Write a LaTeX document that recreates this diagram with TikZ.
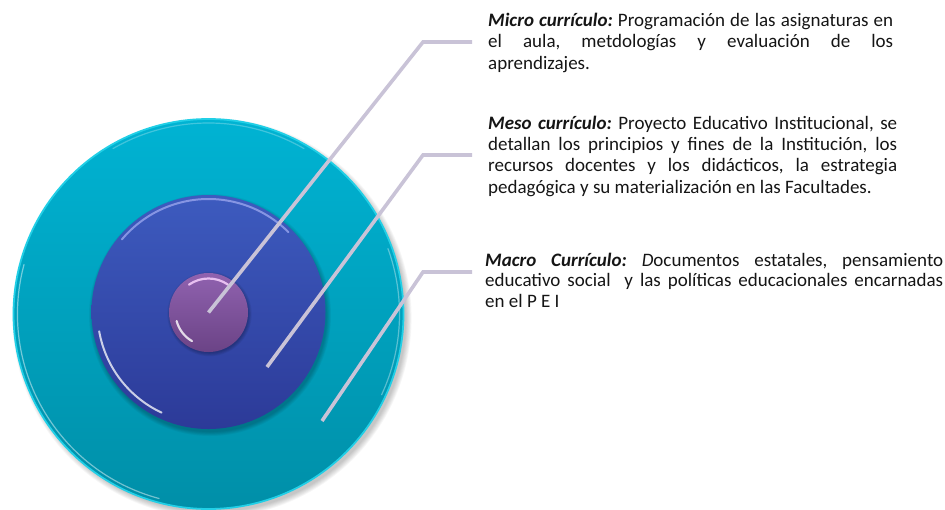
\documentclass[tikz,border=0pt]{standalone}
\usepackage{fontspec}
\setmainfont{Carlito}
\frenchspacing
\definecolor{cyTop}{HTML}{00B3D3}
\definecolor{cyBot}{HTML}{008FA8}
\definecolor{cyRim}{HTML}{22CFE6}
\definecolor{blTop}{HTML}{3D5BBF}
\definecolor{blBot}{HTML}{2C3A98}
\definecolor{blRim}{HTML}{8E9CE8}
\definecolor{puTop}{HTML}{9062AF}
\definecolor{puBot}{HTML}{6B4386}
\definecolor{puRim}{HTML}{F2CBF8}
\definecolor{leader}{HTML}{C9C3D7}
\definecolor{txt}{HTML}{151515}
\begin{document}
\begin{tikzpicture}[x=1pt,y=-1pt,
  disc/.style={circle, inner sep=0pt, minimum size=#1},
  leaderline/.style={draw=leader, line width=3.6pt},
  desc/.style={anchor=base west, inner sep=0pt, text=txt},
  glint/.style={line cap=round, line width=#1}]
\useasboundingbox (0,0) rectangle (945,509);
% soft shadow of the outer disc
\foreach \k in {0,...,7}
  \fill[black, opacity=0.03] (212,318) circle ({194pt+\k*0.8pt});
% outer disc
\node[disc=390pt, top color=cyTop, bottom color=cyBot, draw=cyRim, line width=1.8pt] (outer) at (208.5,314) {};
\draw[white, opacity=0.45, glint=1.2pt] (outer.center) ++(165:191pt) arc[start angle=165, end angle=255, radius=191pt];
\draw[white, opacity=0.35, glint=1.2pt] (outer.center) ++(-25:191pt) arc[start angle=-25, end angle=20, radius=191pt];
\draw[white, opacity=0.25, glint=1.2pt] (outer.center) ++(60:191pt) arc[start angle=60, end angle=120, radius=191pt];
% shadow of the middle disc
\foreach \k in {0,...,5}
  \fill[black, opacity=0.04] (210,315) circle ({117pt+\k*0.8pt});
% middle disc
\node[disc=234pt, top color=blTop, bottom color=blBot] (middle) at (208.5,312) {};
\draw[blRim, opacity=0.9, glint=2pt] (middle.center) ++(45:113pt) arc[start angle=45, end angle=140, radius=113pt];
\draw[white, opacity=0.75, glint=2pt] (middle.center) ++(190:111pt) arc[start angle=190, end angle=245, radius=111pt];
% shadow of the inner disc
\foreach \k in {0,...,4}
  \fill[black, opacity=0.05] (209.5,314) circle ({39pt+\k*0.8pt});
% inner disc
\node[disc=79pt, top color=puTop, bottom color=puBot] (inner) at (208.5,312.5) {};
\draw[puRim, opacity=0.9, glint=2.2pt] (inner.center) ++(55:34pt) arc[start angle=55, end angle=125, radius=34pt];
\draw[white, opacity=0.8, glint=2.2pt] (inner.center) ++(195:33pt) arc[start angle=195, end angle=240, radius=33pt];
% leader lines
\coordinate (mesoEnd) at (267,367);
\coordinate (macroEnd) at (322,421);
\coordinate (microBend) at (423,42);
\coordinate (microStub) at (472,42);
\coordinate (mesoBend) at (423,155);
\coordinate (mesoStub) at (472,155);
\coordinate (macroBend) at (423,272);
\coordinate (macroStub) at (472,272);
\draw[leaderline] (inner.center) -- (microBend) -- (microStub);
\draw[leaderline] (mesoEnd) -- (mesoBend) -- (mesoStub);
\draw[leaderline] (macroEnd) -- (macroBend) -- (macroStub);
% texts
\node[desc, font=\fontsize{19}{21.8}\selectfont\frenchspacing] (micro) at (488,26) {\parbox[t]{405pt}{%
\makebox[405pt][s]{\textbf{\textit{Micro currículo:}} Programación de las asignaturas en}\\
\makebox[405pt][s]{el aula, metdologías y evaluación de los}\\
aprendizajes.}};
\node[desc, font=\fontsize{19}{21.4}\selectfont\frenchspacing] (meso) at (488,129) {\parbox[t]{409pt}{%
\makebox[409pt][s]{\textbf{\textit{Meso currículo:}} Proyecto Educativo Institucional, se}\\
\makebox[409pt][s]{detallan los principios y fines de la Institución, los}\\
\makebox[409pt][s]{recursos docentes y los didácticos, la estrategia}\\
pedagógica y su materialización en las Facultades.}};
\node[desc, font=\fontsize{19}{20.6}\selectfont\frenchspacing] (macro) at (485,266) {\parbox[t]{458pt}{%
\makebox[458pt][s]{\textbf{\textit{Macro Currículo:}} \textit{D}ocumentos estatales, pensamiento}\\
\makebox[458pt][s]{educativo social\ \ y las políticas educacionales encarnadas}\\
en el P E I}};
\end{tikzpicture}
\end{document}
